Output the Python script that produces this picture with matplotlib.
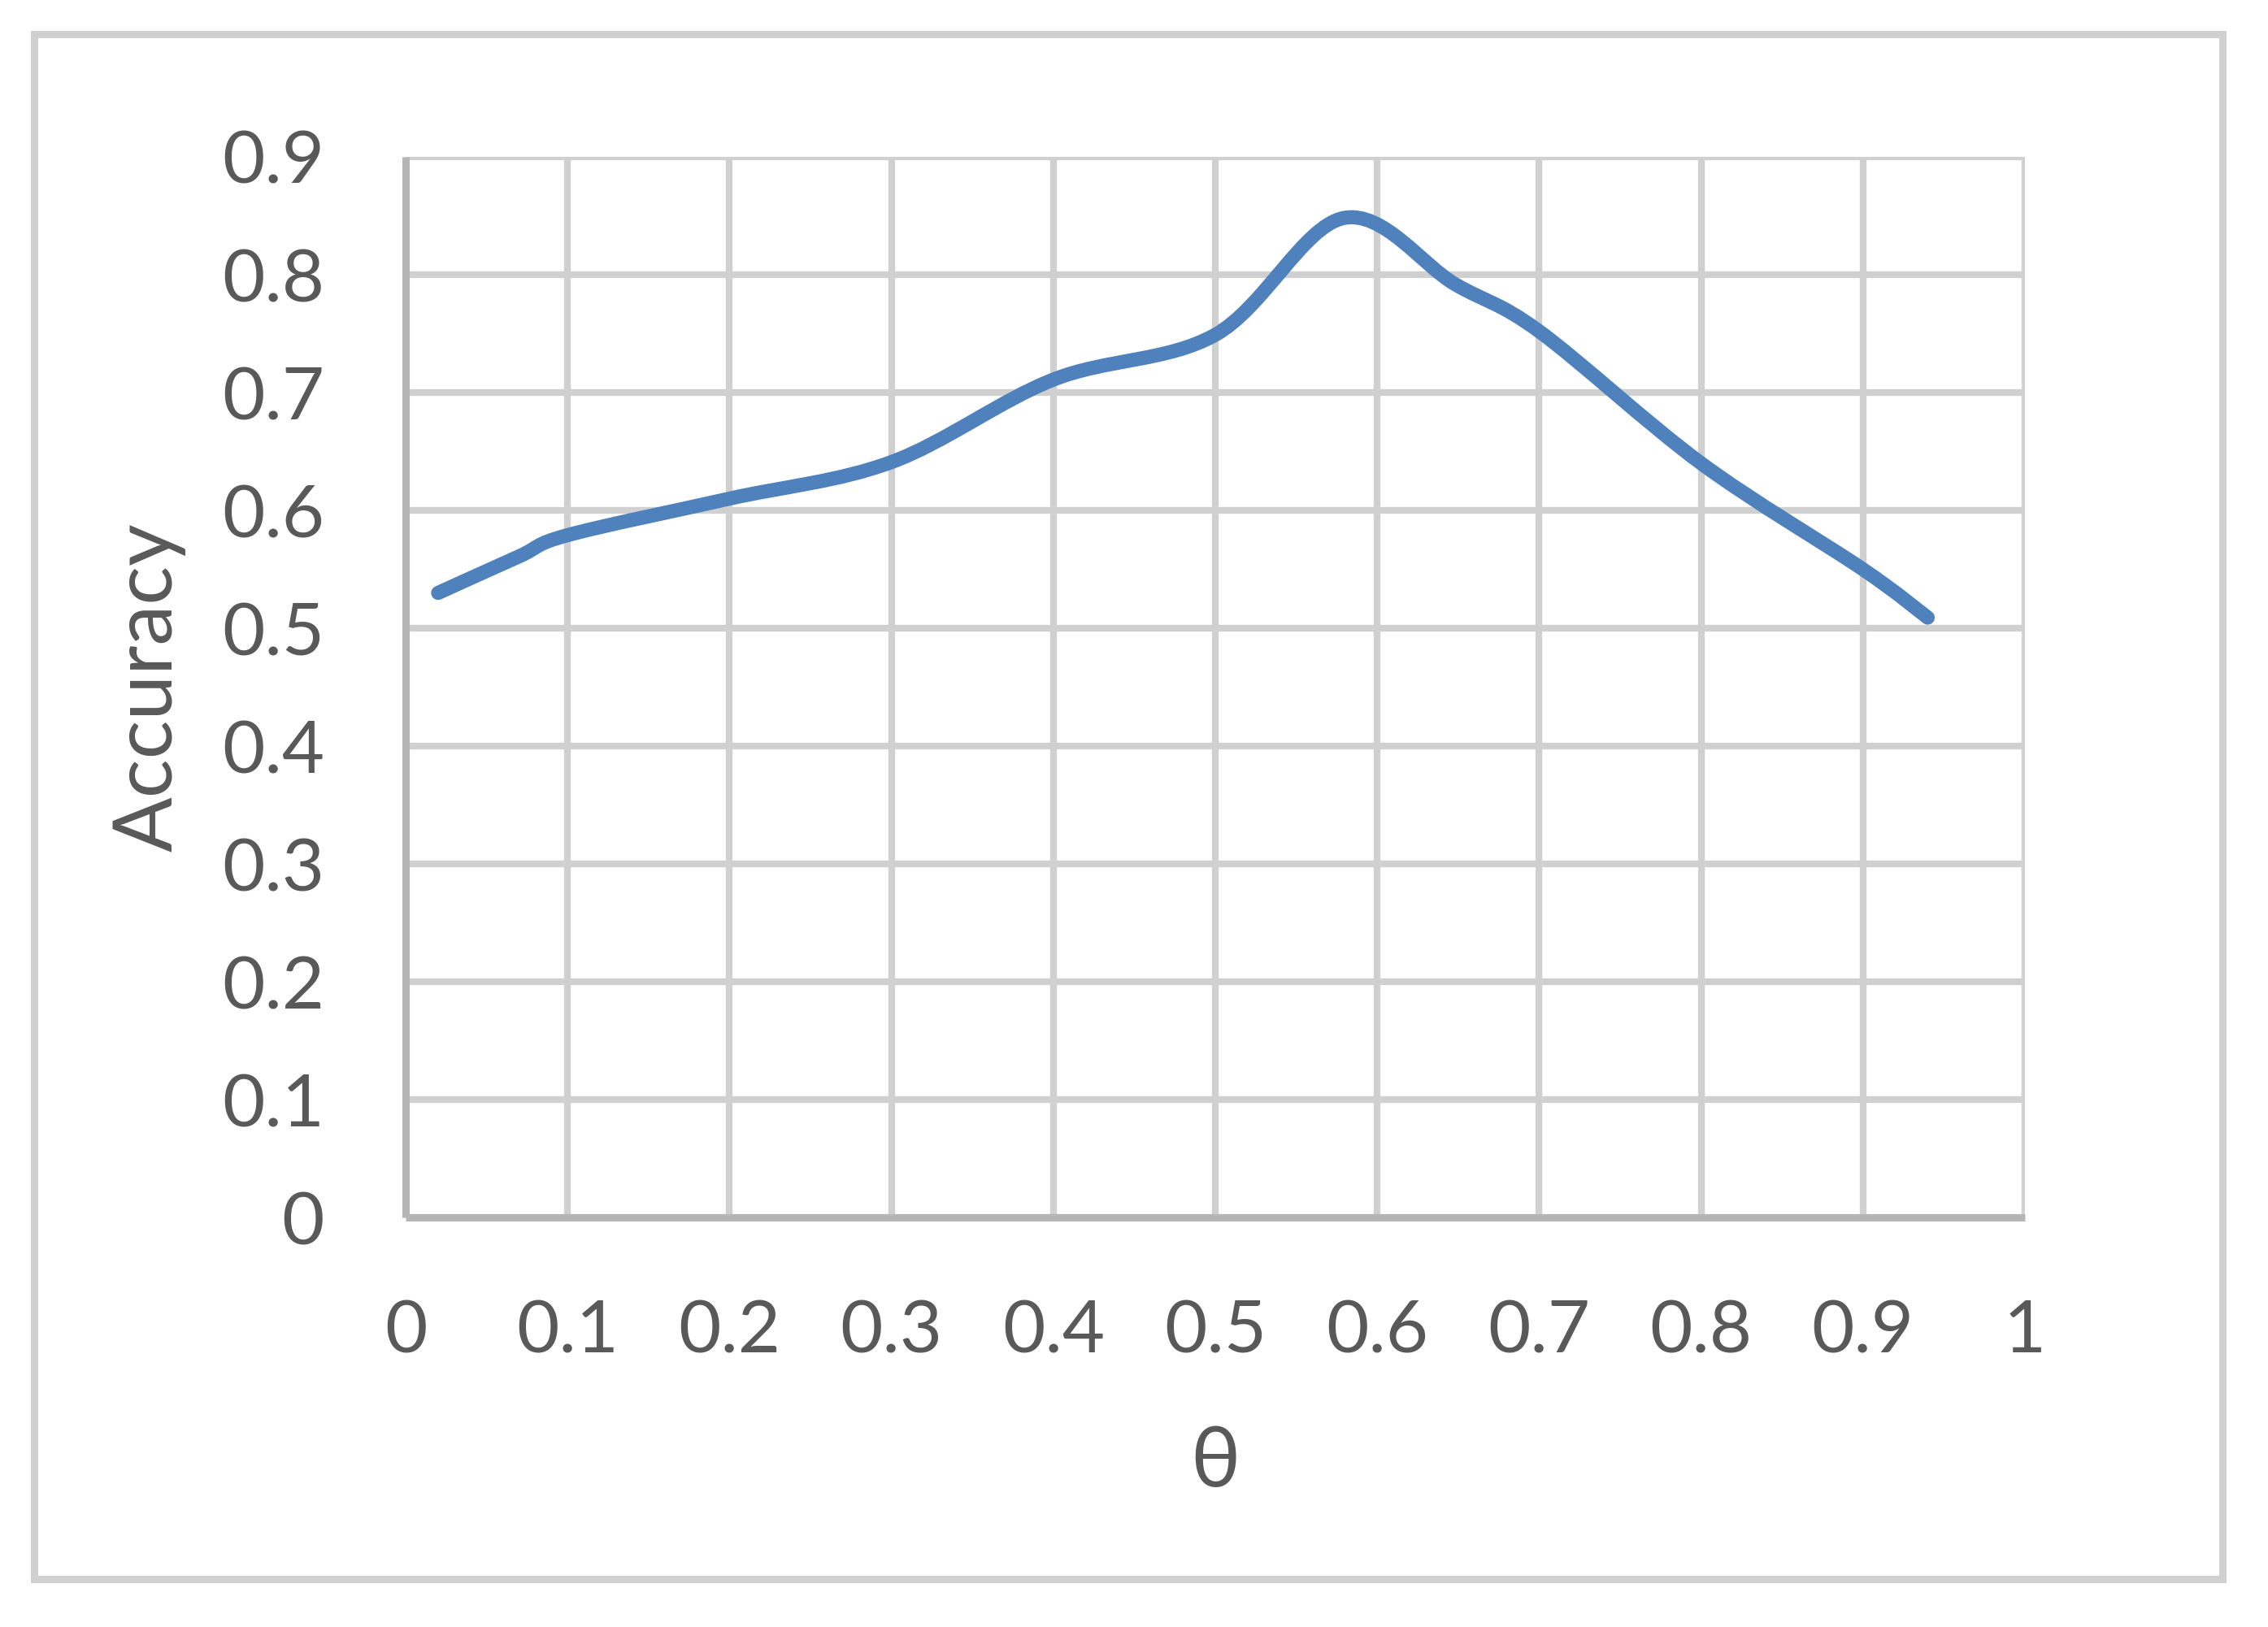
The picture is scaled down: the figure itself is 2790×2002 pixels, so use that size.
import numpy as np
import matplotlib
matplotlib.use("Agg")
import matplotlib.pyplot as plt
from matplotlib.path import Path
from matplotlib.patches import PathPatch, Rectangle

# valori (theta, accuracy)
theta = [0.02, 0.07, 0.1, 0.2, 0.3, 0.4, 0.5, 0.579, 0.648, 0.7, 0.8, 0.9, 0.94]
accuracy = [0.53, 0.561, 0.579, 0.61, 0.641, 0.711, 0.749, 0.848, 0.792, 0.752, 0.64, 0.55, 0.509]

xticks = [0, 0.1, 0.2, 0.3, 0.4, 0.5, 0.6, 0.7, 0.8, 0.9, 1]
xticklabels = ["0", "0.1", "0.2", "0.3", "0.4", "0.5", "0.6", "0.7", "0.8", "0.9", "1"]
yticks = [0, 0.1, 0.2, 0.3, 0.4, 0.5, 0.6, 0.7, 0.8, 0.9]
yticklabels = ["0", "0.1", "0.2", "0.3", "0.4", "0.5", "0.6", "0.7", "0.8", "0.9"]

fonts = ["Lato", "Open Sans", "DejaVu Sans"]
grey_txt = "#595959"
grid_col = "#d0d0d0"
axis_col = "#b5b5b5"
blue = "#4f81bd"

fig = plt.figure(figsize=(27.9, 20.02), dpi=100)
ax = fig.add_axes([0.1789, 0.2517, 0.8928 - 0.1789, 0.9036 - 0.2517])

# linea "smussata" come in Excel: bezier tra i punti
P = np.column_stack([theta, accuracy])
n = len(P)
verts = [P[0]]
codes = [Path.MOVETO]
for i in range(n - 1):
    p0 = P[i - 1] if i > 0 else P[i]
    p1 = P[i]
    p2 = P[i + 1]
    p3 = P[i + 2] if i + 2 < n else P[i + 1]
    c1 = p1 + (p2 - p0) / 6.0
    c2 = p2 - (p3 - p1) / 6.0
    verts += [c1, c2, p2]
    codes += [Path.CURVE4] * 3
curve = PathPatch(Path(verts, codes), fill=False, edgecolor=blue, lw=12.5,
                  capstyle="round", joinstyle="round", zorder=3)
ax.add_patch(curve)

ax.set_xlim(0, 1)
ax.set_ylim(0, 0.9)
ax.set_xticks(xticks)
ax.set_xticklabels(xticklabels)
ax.set_yticks(yticks)
ax.set_yticklabels(yticklabels)
ax.grid(True, color=grid_col, lw=6)
ax.set_axisbelow(True)
ax.tick_params(length=0, pad=72, labelsize=65, labelcolor=grey_txt)
for lab in ax.get_xticklabels() + ax.get_yticklabels():
    lab.set_family(fonts)

for s in ["top", "right"]:
    ax.spines[s].set_visible(False)
for s in ["left", "bottom"]:
    ax.spines[s].set_color(axis_col)
    ax.spines[s].set_linewidth(6.5)
    ax.spines[s].set_zorder(2.5)
    ax.spines[s].set_capstyle("butt")

ax.set_ylabel("Accuracy", fontsize=72, color=grey_txt, family=fonts)
ax.set_xlabel("θ", fontsize=74, color=grey_txt, family=fonts)
ax.yaxis.label.set_va("center")
ax.xaxis.label.set_va("center")
ax.yaxis.set_label_coords(-0.1586, 0.5)
ax.xaxis.set_label_coords(0.5, -0.231)

# cornice esterna
fig.patches.append(Rectangle((42 / 2790, 1 - 1943 / 2002), (2734 - 42) / 2790, (1943 - 42) / 2002,
                             transform=fig.transFigure, fill=False, edgecolor=grid_col, lw=6.5))

fig.savefig("out.png", dpi=100, facecolor="white")
